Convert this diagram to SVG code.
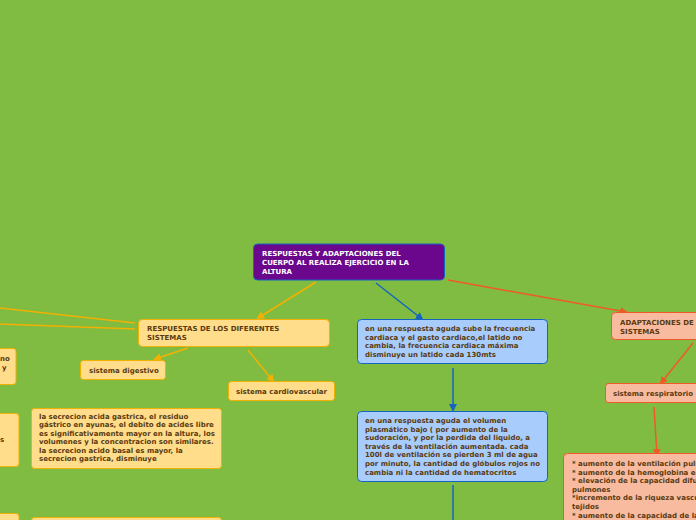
<svg xmlns="http://www.w3.org/2000/svg" width="696" height="520" viewBox="0 0 696 520">
<defs>
<marker id="ay" markerWidth="8" markerHeight="8" refX="6" refY="4" orient="auto" markerUnits="userSpaceOnUse"><path d="M0,0 L8,4 L0,8 z" fill="#f2b100"/></marker>
<marker id="ab" markerWidth="8" markerHeight="8" refX="6" refY="4" orient="auto" markerUnits="userSpaceOnUse"><path d="M0,0 L8,4 L0,8 z" fill="#1565c0"/></marker>
<marker id="ao" markerWidth="8" markerHeight="8" refX="6" refY="4" orient="auto" markerUnits="userSpaceOnUse"><path d="M0,0 L8,4 L0,8 z" fill="#f05a28"/></marker>
</defs>
<style>
text{font-family:"DejaVu Sans",Verdana,sans-serif;font-weight:bold;font-size:7px;fill:#5a3a10}
.y{fill:#ffdd8a;stroke:#f2b100;stroke-width:1}
.b{fill:#a8cdfc;stroke:#1565c0;stroke-width:1}
.o{fill:#f8bba0;stroke:#f05a28;stroke-width:1}
.cy{stroke:#f2b100;stroke-width:1.5;fill:none}
.cb{stroke:#1565c0;stroke-width:1.5;fill:none}
.co{stroke:#f05a28;stroke-width:1.5;fill:none}
</style>
<rect width="696" height="520" fill="#80bc42"/>
<g id="connectors">
<line class="cy" x1="316" y1="282" x2="258" y2="318" marker-end="url(#ay)"/>
<line class="cy" x1="135" y1="323" x2="0" y2="308"/>
<line class="cy" x1="135" y1="329" x2="0" y2="324"/>
<line class="cy" x1="188" y1="348" x2="155" y2="359" marker-end="url(#ay)"/>
<line class="cy" x1="248" y1="350" x2="273" y2="381" marker-end="url(#ay)"/>
<line class="cb" x1="376" y1="283" x2="422" y2="319" marker-end="url(#ab)"/>
<line class="cb" x1="453" y1="368" x2="453" y2="410" marker-end="url(#ab)"/>
<line class="cb" x1="453" y1="485" x2="453" y2="520"/>
<line class="co" x1="448" y1="280" x2="626" y2="312" marker-end="url(#ao)"/>
<line class="co" x1="693" y1="343" x2="661" y2="383" marker-end="url(#ao)"/>
<line class="co" x1="654" y1="407" x2="657" y2="455" marker-end="url(#ao)"/>
</g>
<g id="root"><rect x="253.500" y="244" width="191" height="36" rx="4" fill="#6a078c" stroke="#1565c0"/>
<text x="262" y="256" style="fill:#fff"><tspan x="262">RESPUESTAS Y ADAPTACIONES DEL</tspan><tspan x="262" dy="9">CUERPO AL  REALIZA EJERCICIO EN  LA</tspan><tspan x="262" dy="9">ALTURA</tspan></text></g>
<g id="resp"><rect class="y" x="138.500" y="319.500" width="191" height="27" rx="4"/>
<text x="147" y="331"><tspan x="147">RESPUESTAS DE LOS DIFERENTES</tspan><tspan x="147" dy="9">SISTEMAS</tspan></text></g>
<g id="dig"><rect class="y" x="80.500" y="360.500" width="85" height="19" rx="3"/><text x="89" y="373">sistema digestivo</text></g>
<g id="card"><rect class="y" x="228.500" y="381.500" width="106" height="19" rx="3"/><text x="236" y="394">sistema cardiovascular</text></g>
<g id="left1"><rect class="y" x="-10" y="348.500" width="26" height="36" rx="3"/><text x="0" y="361"><tspan x="0">no</tspan><tspan x="2" dy="9">y</tspan></text></g>
<g id="left2"><rect class="y" x="-10" y="413.500" width="29" height="53" rx="3"/><text x="0" y="442">s</text></g>
<g id="left3"><rect class="y" x="-10" y="513.500" width="29" height="20" rx="3"/></g>
<g id="gast"><rect class="y" x="31.500" y="408.500" width="190" height="60" rx="3"/>
<text x="39" y="419"><tspan x="39">la secrecion acida gastrica, el residuo</tspan><tspan x="39" dy="8.300">gástrico en ayunas, el debito de acides libre</tspan><tspan x="39" dy="8.300">es significativamente mayor en la altura, los</tspan><tspan x="39" dy="8.300">volumenes y la concentracion son similares.</tspan><tspan x="39" dy="8.800">la secrecion acido basal es mayor, la</tspan><tspan x="39" dy="8.300">secrecion gastrica, disminuye</tspan></text></g>
<g id="bot"><rect class="y" x="31.500" y="517.500" width="190" height="20" rx="3"/></g>
<g id="b1"><rect class="b" x="357.500" y="319.500" width="190" height="44" rx="4"/>
<text x="365" y="331"><tspan x="365">en una respuesta aguda sube la frecuencia</tspan><tspan x="365" dy="8.600">cardiaca y el gasto cardiaco,el latido no</tspan><tspan x="365" dy="8.600">cambia, la frecuencia cardiaca máxima</tspan><tspan x="365" dy="8.600">disminuye un latido cada 130mts</tspan></text></g>
<g id="b2"><rect class="b" x="357.500" y="411.500" width="190" height="70" rx="4"/>
<text x="365" y="423"><tspan x="365">en una respuesta aguda el volumen</tspan><tspan x="365" dy="8.600">plasmático bajo ( por aumento de la</tspan><tspan x="365" dy="8.600">sudoración, y  por la perdida del liquido, a</tspan><tspan x="365" dy="8.600">través de la  ventilación aumentada. cada</tspan><tspan x="365" dy="8.600">100l de ventilación se pierden 3 ml de agua</tspan><tspan x="365" dy="8.600">por minuto, la cantidad de glóbulos rojos no</tspan><tspan x="365" dy="8.600">cambia ni la cantidad de hematocritos</tspan></text></g>
<g id="adapt"><rect class="o" x="611.500" y="312.500" width="100" height="27" rx="4"/>
<text x="620" y="325"><tspan x="620">ADAPTACIONES DE</tspan><tspan x="620" dy="9">SISTEMAS</tspan></text></g>
<g id="resp2"><rect class="o" x="605.500" y="383.500" width="100" height="19" rx="3"/><text x="613" y="396">sistema respiratorio</text></g>
<g id="list"><rect class="o" x="563.500" y="453.500" width="150" height="80" rx="4"/>
<text x="572" y="466"><tspan x="572">* aumento de la ventilación pulmonar</tspan><tspan x="572" dy="8.600">* aumento de la hemoglobina en</tspan><tspan x="572" dy="8.600">* elevación de la capacidad difusora</tspan><tspan x="572" dy="8.600">pulmones</tspan><tspan x="572" dy="8.600">*incremento de la riqueza vascular</tspan><tspan x="572" dy="8.600">tejidos</tspan><tspan x="572" dy="8.600">* aumento de la capacidad de la</tspan></text></g>
</svg>
